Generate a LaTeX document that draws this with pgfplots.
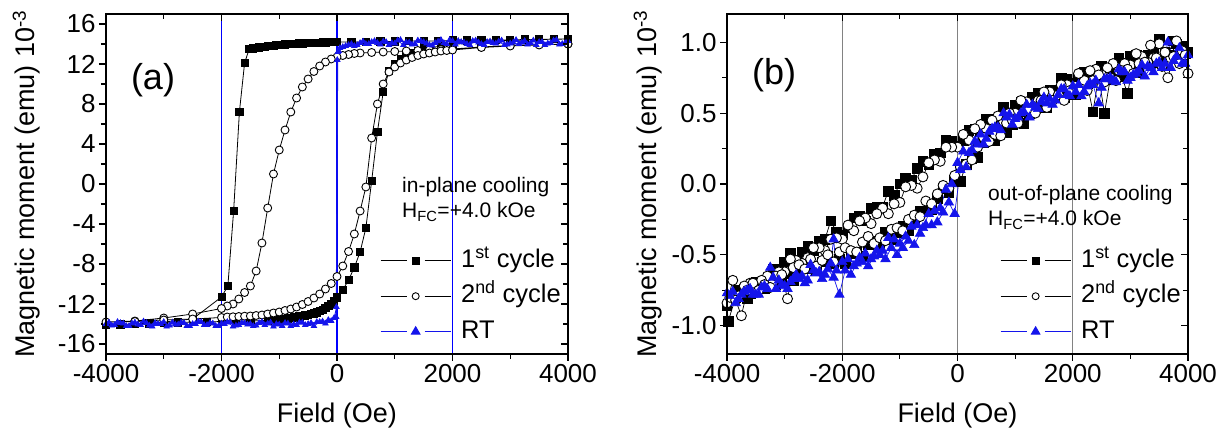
\documentclass[border=0pt]{standalone}
\usepackage{fontspec}
\setmainfont{Liberation Sans}
\usepackage{pgfplots}
\pgfplotsset{compat=1.18}
\definecolor{rtblue}{RGB}{20,20,235}
\definecolor{gridblue}{RGB}{0,0,255}
\definecolor{gridgray}{RGB}{130,130,130}
\pgfplotsset{
  panel/.style={
    scale only axis, height=340pt,
    xmin=-4000, xmax=4000,
    xtick={-4000,-2000,0,2000,4000},
    minor xtick={-3000,-1000,1000,3000},
    /pgf/number format/assume math mode=true,
    /pgf/number format/1000 sep={},
    tick label style={font=\fontsize{26}{30}\selectfont},
    xlabel style={at={([yshift=-69pt]axis description cs:0.5,0)}, anchor=base, font=\fontsize{27}{32}\selectfont},
    ylabel style={at={([xshift=-71pt]axis description cs:0,0.5)}, rotate=0, anchor=base, font=\fontsize{27}{32}\selectfont},
    axis line style={line width=1.4pt},
    major tick length=7pt, minor tick length=5pt,
    major tick style={line width=1.2pt, black},
    minor tick style={line width=1.2pt, black},
    tick align=outside, tick pos=left,
    legend cell align=left,
    legend image code/.code={\draw (0pt,0pt) -- (26pt,0pt) (44pt,0pt) -- (70pt,0pt); \draw plot coordinates {(35pt,0pt)};},
  },
  mirror/.style={tick pos=right, tick align=inside, xticklabels={}, yticklabels={}},
  panelA/.style={panel, width=462pt, ymin=-17, ymax=17, ytick={-16,-12,...,16}, minor ytick={-14,-10,...,14}},
  panelB/.style={panel, width=461pt, ymin=-1.2, ymax=1.2, ytick={-1,-0.5,0,0.5,1}, minor ytick={-0.75,-0.25,0.25,0.75},
    yticklabel style={/pgf/number format/fixed, /pgf/number format/fixed zerofill, /pgf/number format/precision=1}},
  legsty/.style={legend style={draw=none, fill=none, at={#1}, anchor=north west,
    font=\fontsize{25.5}{30}\selectfont, row sep=6.5pt, inner sep=0pt,
    /tikz/every odd column/.append style={column sep=8pt},
    nodes={inner sep=2pt, text height=19pt, text depth=6pt}}},
}
\begin{document}
\begin{tikzpicture}
\useasboundingbox (0pt,0pt) rectangle (1225pt,430pt);
% ---------------- panel (a)
\begin{axis}[panelA, at={(106pt,76pt)}, anchor=south west,
  xlabel={Field (Oe)}, ylabel={Magnetic moment (emu) 10\textsuperscript{-3}},
  legsty={(axis cs:745,-6.2)}]
\addlegendimage{black, line width=0.9pt, mark=square*, mark size=3.5pt}
\addlegendentry{1\textsuperscript{st} cycle}
\addlegendimage{black, line width=0.9pt, mark=*, mark size=3.5pt, mark options={fill=white, line width=0.9pt}}
\addlegendentry{2\textsuperscript{nd} cycle}
\addlegendimage{rtblue, line width=0.9pt, mark=triangle*, mark size=5pt}
\addlegendentry{RT}
% vertical reference lines
\addplot[forget plot, gridblue, line width=1.3pt, mark=none] coordinates {(-2000,-17) (-2000,17)};
\addplot[forget plot, gridblue, line width=1.3pt, mark=none] coordinates {(0,-17) (0,17)};
\addplot[forget plot, gridblue, line width=1.3pt, mark=none] coordinates {(2000,-17) (2000,17)};
% 1st cycle
\addplot[forget plot, black, line width=0.8pt, mark=square*, mark size=3.6pt] coordinates {
(4000,14.5) (3750,14.5) (3500,14.45) (3250,14.45) (3000,14.4) (2750,14.4) (2500,14.4) (2250,14.35) (2000,14.35) (1750,14.3) (1500,14.3) (1250,14.3) (1000,14.25) (750,14.25) (500,14.2) (250,14.2)
(0,14.20) (-50,14.19) (-100,14.18) (-150,14.17) (-200,14.16) (-250,14.15) (-300,14.14) (-350,14.13) (-400,14.12) (-450,14.10) (-500,14.09) (-550,14.08) (-600,14.06) (-650,14.05) (-700,14.03) (-750,14.01) (-800,13.99) (-850,13.97) (-900,13.95) (-950,13.93) (-1000,13.90) (-1050,13.87) (-1100,13.84) (-1150,13.81) (-1200,13.78) (-1250,13.74) (-1300,13.70) (-1350,13.66) (-1400,13.61) (-1450,13.56) (-1520,13.50)
(-1600,12.1) (-1690,7.2) (-1790,-2.7) (-1890,-10.2) (-2000,-11.3) (-2500,-13.5) (-3000,-13.8) (-3500,-14.0) (-4000,-14.1)
(-3750,-14.05) (-3500,-14.0) (-3250,-13.95) (-3000,-13.9) (-2750,-13.85) (-2500,-13.8) (-2250,-13.8) (-2000,-13.75) (-1750,-13.72) (-1500,-13.7)
(-1200,-13.65) (-1150,-13.62) (-1100,-13.6) (-1050,-13.58) (-1000,-13.55) (-950,-13.52) (-900,-13.48) (-850,-13.44) (-800,-13.4) (-750,-13.35) (-700,-13.3) (-650,-13.25) (-600,-13.2) (-550,-13.14) (-500,-13.08) (-450,-13.02) (-400,-12.95) (-350,-12.85) (-300,-12.72) (-250,-12.58) (-200,-12.42) (-150,-12.22) (-100,-11.98) (-50,-11.7) (0,-11.35)
(100,-10.6) (200,-9.6) (300,-8.35) (400,-6.8) (500,-4.4) (600,0.3) (700,5.2) (800,9.2) (900,11.3) (1000,12.0) (1100,12.5) (1200,12.85) (1300,13.1) (1400,13.3) (1500,13.45) (1600,13.6) (1800,13.8) (2000,13.95) (2500,14.2) (3000,14.35) (3500,14.45) (4000,14.5)
};
% 2nd cycle
\addplot[forget plot, black, line width=0.8pt, mark=*, mark size=4pt, mark options={fill=white, line width=0.9pt}] coordinates {
(4000,14.0) (3500,13.95) (3000,13.85) (2500,13.7) (2000,13.5) (1800,13.45) (1600,13.4) (1400,13.35) (1200,13.3) (1000,13.25) (800,13.2) (600,13.15) (400,13.1) (300,13.05) (200,12.95) (100,12.85) (0,12.7) (-100,12.5) (-200,12.2) (-300,11.8) (-400,11.25) (-500,10.5) (-600,9.7) (-700,8.6) (-800,7.2) (-900,5.4) (-1000,3.4) (-1100,1.0) (-1200,-2.4) (-1300,-5.9) (-1400,-8.7) (-1500,-10.2) (-1600,-10.85) (-1700,-11.5) (-1800,-12.0) (-1900,-12.2) (-2000,-12.45) (-2500,-13.0) (-3000,-13.4) (-3500,-13.7) (-4000,-13.8)
(-3500,-13.75) (-3000,-13.6) (-2500,-13.5) (-2000,-13.35) (-1900,-13.3) (-1800,-13.28) (-1700,-13.25) (-1600,-13.22) (-1500,-13.2) (-1400,-13.15) (-1300,-13.1) (-1200,-13.0) (-1100,-12.9) (-1000,-12.8) (-900,-12.65) (-800,-12.5) (-700,-12.3) (-600,-12.05) (-500,-11.75) (-400,-11.4) (-300,-11.0) (-200,-10.5) (-100,-9.95) (0,-9.25) (100,-8.2) (200,-6.75) (300,-5.0) (400,-2.7) (500,-0.3) (600,4.6) (700,8.0) (800,10.0) (900,11.2) (1000,11.7) (1100,12.1) (1200,12.4) (1300,12.65) (1400,12.85) (1500,13.0) (1600,13.1) (1700,13.2) (1800,13.3) (1900,13.35) (2000,13.4) (2500,13.65) (3000,13.8) (3500,13.9) (4000,14.0)
};
% RT
\addplot[forget plot, rtblue, line width=0.7pt, mark=triangle*, mark size=3.2pt] coordinates {
(4000,14.3) (3900,14.0) (3800,14.4) (3700,14.1) (3600,13.9) (3500,14.2) (3400,14.35) (3300,13.95) (3200,14.15) (3100,14.4) (3000,14.05) (2900,13.9) (2800,14.25) (2700,14.1) (2600,14.2) (2500,14.0) (2400,14.35) (2300,13.9) (2200,14.15) (2100,14.3) (2000,14.3) (1900,14.0) (1800,14.4) (1700,14.1) (1600,13.9) (1500,14.2) (1400,14.35) (1300,13.95) (1200,14.15) (1100,14.4) (1000,14.05) (900,13.9) (800,14.25) (700,14.1) (600,14.2) (500,14.0) (400,14.1) (300,13.8) (200,13.9) (100,13.7) (30,13.3) (5,12.4) (-15,-13.3)
(-100,-13.7) (-200,-13.95) (-300,-13.8) (-400,-14.2) (-500,-14.0) (-600,-13.85) (-700,-14.1) (-800,-14.2) (-900,-13.9) (-1000,-14.05) (-1100,-14.25) (-1200,-13.95) (-1300,-13.8) (-1400,-14.15) (-1500,-14.0) (-1600,-13.9) (-1700,-14.1) (-1800,-14.25) (-1900,-13.8) (-2000,-13.95) (-2100,-14.2) (-2200,-13.9) (-2300,-14.1) (-2400,-13.75) (-2500,-14.0) (-2600,-14.2) (-2700,-13.85) (-2800,-14.05) (-2900,-14.15) (-3000,-13.8) (-3100,-14.0) (-3200,-14.25) (-3300,-13.9) (-3400,-14.1) (-3500,-13.85) (-3600,-14.2) (-3700,-13.95) (-3800,-13.8) (-3900,-14.15) (-4000,-14.0)
(-3950,-13.85) (-3850,-14.1) (-3750,-13.9) (-3650,-14.2) (-3550,-13.95) (-3450,-14.05) (-3350,-13.75) (-3250,-14.15) (-3150,-13.9) (-3050,-14.0) (-2950,-14.25) (-2850,-13.85) (-2750,-14.05) (-2650,-13.9) (-2550,-14.2) (-2450,-14.0) (-2350,-13.8) (-2250,-14.1) (-2150,-13.95) (-2050,-14.2) (-1950,-14.0) (-1850,-13.85) (-1750,-14.15) (-1650,-13.9) (-1550,-14.05) (-1450,-14.2) (-1350,-13.9) (-1250,-14.1) (-1150,-13.85) (-1050,-14.0) (-950,-14.2) (-850,-13.95) (-750,-14.05) (-650,-13.85) (-550,-14.1) (-450,-13.9) (-350,-13.8) (-250,-13.75) (-150,-13.6) (-50,-13.4) (-10,-12.3) (15,13.2)
(50,13.6) (150,13.8) (250,14.0) (350,13.9) (450,14.25) (550,14.0) (650,14.3) (750,13.95) (850,14.2) (950,14.1) (1050,14.35) (1150,13.9) (1250,14.15) (1350,14.0) (1450,14.3) (1550,14.05) (1650,13.85) (1750,14.25) (1850,14.1) (1950,14.4) (2050,13.95) (2150,14.2) (2250,14.0) (2350,14.3) (2450,14.15) (2550,13.9) (2650,14.25) (2750,14.05) (2850,14.35) (2950,13.95) (3050,14.15) (3150,14.0) (3250,14.3) (3350,14.1) (3450,13.9) (3550,14.2) (3650,14.05) (3750,14.35) (3850,13.95) (3950,14.1)
};
\node[font=\fontsize{36}{40}\selectfont] at (axis cs:-3186,10.4) {(a)};
\node[anchor=west, inner sep=0pt, font=\fontsize{21}{25}\selectfont] at (axis cs:1126,-0.3) {in-plane cooling};
\node[anchor=west, inner sep=0pt, font=\fontsize{21}{25}\selectfont] at (axis cs:1126,-2.8) {H\textsubscript{FC}=+4.0 kOe};
\end{axis}
\begin{axis}[panelA, mirror, at={(106pt,76pt)}, anchor=south west]
\end{axis}
% ---------------- panel (b)
\begin{axis}[panelB, at={(727pt,76pt)}, anchor=south west,
  xlabel={Field (Oe)}, ylabel={Magnetic moment (emu) 10\textsuperscript{-3}},
  xmajorgrids, major grid style={gridgray, line width=1.2pt},
  legsty={(axis cs:737,-0.438)}]
\addlegendimage{black, line width=0.9pt, mark=square*, mark size=3.5pt}
\addlegendentry{1\textsuperscript{st} cycle}
\addlegendimage{black, line width=0.9pt, mark=*, mark size=3.5pt, mark options={fill=white, line width=0.9pt}}
\addlegendentry{2\textsuperscript{nd} cycle}
\addlegendimage{rtblue, line width=0.9pt, mark=triangle*, mark size=5pt}
\addlegendentry{RT}
% 1st cycle
\addplot[forget plot, black, line width=0.7pt, mark=square*, mark size=4.8pt] coordinates {
(4000,0.93) (3900,0.97) (3800,0.99) (3700,0.91) (3600,0.93) (3500,1.02) (3400,0.93) (3300,0.91) (3200,0.86) (3100,0.91) (3000,0.90) (2900,0.84) (2800,0.89) (2700,0.80) (2600,0.82) (2500,0.83) (2400,0.75) (2300,0.79) (2200,0.79) (2100,0.74) (2000,0.71) (1900,0.74) (1800,0.75) (1700,0.66) (1600,0.66) (1500,0.60) (1400,0.64) (1300,0.61) (1200,0.54) (1100,0.58) (1000,0.56) (900,0.50) (800,0.54) (700,0.45) (600,0.46) (500,0.46) (400,0.37) (300,0.39) (200,0.38) (100,0.31) (0,0.27) (-100,0.30) (-200,0.31) (-300,0.22) (-400,0.21) (-500,0.14) (-600,0.16) (-700,0.11) (-800,0.03) (-900,0.04) (-1000,0.00) (-1100,-0.08) (-1200,-0.05) (-1300,-0.16) (-1400,-0.16) (-1500,-0.17) (-1600,-0.26) (-1700,-0.23) (-1800,-0.24) (-1900,-0.31) (-2000,-0.36) (-2100,-0.34) (-2200,-0.26) (-2300,-0.39) (-2400,-0.40) (-2500,-0.47) (-2600,-0.44) (-2700,-0.48) (-2800,-0.55) (-2900,-0.49) (-3000,-0.55) (-3100,-0.63) (-3200,-0.60) (-3300,-0.70) (-3400,-0.69) (-3500,-0.69) (-3600,-0.77) (-3700,-0.74) (-3800,-0.75) (-3900,-0.81) (-4000,-0.86)
(-3980,-0.97) (-3850,-0.80) (-3750,-0.79) (-3650,-0.81) (-3550,-0.73) (-3450,-0.71) (-3350,-0.74) (-3250,-0.66) (-3150,-0.71) (-3050,-0.67) (-2950,-0.63) (-2850,-0.68) (-2750,-0.61) (-2650,-0.58) (-2550,-0.60) (-2450,-0.61) (-2350,-0.55) (-2250,-0.51) (-2150,-0.56) (-2050,-0.53) (-1950,-0.56) (-1850,-0.49) (-1750,-0.48) (-1650,-0.51) (-1550,-0.43) (-1450,-0.40) (-1350,-0.43) (-1250,-0.34) (-1150,-0.39) (-1050,-0.34) (-950,-0.30) (-850,-0.33) (-750,-0.25) (-650,-0.19) (-550,-0.19) (-450,-0.18) (-350,-0.10) (-250,-0.03) (-150,-0.06) (-50,0.02) (50,0.02) (150,0.14) (250,0.18) (350,0.19) (450,0.29) (550,0.33) (650,0.31) (750,0.40) (850,0.36) (950,0.42) (1050,0.47) (1150,0.43) (1250,0.50) (1350,0.55) (1450,0.54) (1550,0.54) (1650,0.61) (1750,0.66) (1850,0.61) (1950,0.65) (2050,0.63) (2150,0.70) (2250,0.71) (2350,0.51) (2450,0.76) (2550,0.50) (2650,0.74) (2750,0.82) (2850,0.76) (2950,0.64) (3050,0.84) (3150,0.79) (3250,0.86) (3350,0.89) (3450,0.86) (3550,0.85) (3650,0.91) (3750,1.01) (3850,0.89) (3950,0.92)
};
% 2nd cycle
\addplot[forget plot, black, line width=0.7pt, mark=*, mark size=5pt, mark options={fill=white, line width=0.9pt}] coordinates {
(4000,0.78) (3900,0.94) (3800,1.01) (3700,0.89) (3600,0.93) (3500,0.99) (3400,0.89) (3300,0.86) (3200,0.90) (3100,0.92) (3000,0.84) (2900,0.85) (2800,0.80) (2700,0.85) (2600,0.82) (2500,0.77) (2400,0.81) (2300,0.80) (2200,0.73) (2100,0.78) (2000,0.69) (1900,0.70) (1800,0.70) (1700,0.62) (1600,0.65) (1500,0.65) (1400,0.59) (1300,0.55) (1200,0.58) (1100,0.59) (1000,0.50) (900,0.50) (800,0.44) (700,0.48) (600,0.45) (500,0.39) (400,0.42) (300,0.39) (200,0.31) (100,0.35) (0,0.26) (-100,0.26) (-200,0.26) (-300,0.16) (-400,0.17) (-500,0.15) (-600,0.05) (-700,-0.03) (-800,-0.01) (-900,-0.02) (-1000,-0.13) (-1100,-0.14) (-1200,-0.21) (-1300,-0.17) (-1400,-0.21) (-1500,-0.28) (-1600,-0.24) (-1700,-0.26) (-1800,-0.33) (-1900,-0.29) (-2000,-0.39) (-2100,-0.38) (-2200,-0.39) (-2300,-0.47) (-2400,-0.45) (-2500,-0.45) (-2600,-0.52) (-2700,-0.56) (-2800,-0.54) (-2900,-0.53) (-3000,-0.62) (-3100,-0.62) (-3200,-0.69) (-3300,-0.65) (-3400,-0.68) (-3500,-0.74) (-3600,-0.70) (-3700,-0.72) (-3800,-0.79) (-3900,-0.68) (-4000,-0.84)
(-3950,-0.80) (-3850,-0.82) (-3750,-0.93) (-3650,-0.75) (-3550,-0.70) (-3450,-0.75) (-3350,-0.71) (-3250,-0.73) (-3150,-0.65) (-3050,-0.64) (-2950,-0.81) (-2850,-0.59) (-2750,-0.57) (-2650,-0.60) (-2550,-0.53) (-2450,-0.58) (-2350,-0.54) (-2250,-0.50) (-2150,-0.55) (-2050,-0.48) (-1950,-0.45) (-1850,-0.47) (-1750,-0.48) (-1650,-0.41) (-1550,-0.37) (-1450,-0.42) (-1350,-0.38) (-1250,-0.40) (-1150,-0.32) (-1050,-0.31) (-950,-0.33) (-850,-0.25) (-750,-0.22) (-650,-0.23) (-550,-0.12) (-450,-0.14) (-350,-0.07) (-250,-0.01) (-150,-0.03) (-50,0.06) (50,0.12) (150,0.14) (250,0.17) (350,0.26) (450,0.33) (550,0.30) (650,0.35) (750,0.34) (850,0.43) (950,0.45) (1050,0.43) (1150,0.51) (1250,0.53) (1350,0.50) (1450,0.59) (1550,0.54) (1650,0.59) (1750,0.63) (1850,0.59) (1950,0.66) (2050,0.69) (2150,0.67) (2250,0.66) (2350,0.73) (2450,0.77) (2550,0.72) (2650,0.75) (2750,0.73) (2850,0.80) (2950,0.81) (3050,0.78) (3150,0.85) (3250,0.86) (3350,0.98) (3450,0.89) (3550,0.83) (3650,0.75) (3750,0.90) (3850,0.85) (3950,0.91)
};
% RT
\addplot[forget plot, rtblue, line width=0.7pt, mark=triangle*, mark size=5.4pt] coordinates {
(4000,0.91) (3900,0.85) (3800,0.90) (3700,0.82) (3600,0.85) (3500,0.86) (3400,0.79) (3300,0.83) (3200,0.84) (3100,0.78) (3000,0.75) (2900,0.79) (2800,0.81) (2700,0.73) (2600,0.74) (2500,0.68) (2400,0.73) (2300,0.71) (2200,0.65) (2100,0.70) (2000,0.69) (1900,0.63) (1800,0.67) (1700,0.59) (1600,0.60) (1500,0.61) (1400,0.53) (1300,0.56) (1200,0.56) (1100,0.50) (1000,0.46) (900,0.49) (800,0.50) (700,0.40) (600,0.39) (500,0.32) (400,0.35) (300,0.30) (200,0.22) (100,0.23) (0,0.15) (-100,0.00) (-200,-0.04) (-300,-0.17) (-400,-0.19) (-500,-0.21) (-600,-0.31) (-700,-0.29) (-800,-0.30) (-900,-0.37) (-1000,-0.42) (-1100,-0.39) (-1200,-0.38) (-1300,-0.47) (-1400,-0.47) (-1500,-0.53) (-1600,-0.49) (-1700,-0.52) (-1800,-0.58) (-1900,-0.53) (-2000,-0.55) (-2100,-0.61) (-2150,-0.39) (-2200,-0.56) (-2300,-0.64) (-2400,-0.62) (-2500,-0.61) (-2600,-0.68) (-2700,-0.65) (-2800,-0.64) (-2900,-0.69) (-3000,-0.72) (-3100,-0.68) (-3200,-0.66) (-3300,-0.74) (-3400,-0.73) (-3500,-0.78) (-3600,-0.74) (-3700,-0.76) (-3800,-0.81) (-3900,-0.76) (-4000,-0.77)
(-3950,-0.79) (-3850,-0.84) (-3750,-0.78) (-3650,-0.75) (-3550,-0.78) (-3450,-0.78) (-3350,-0.72) (-3250,-0.59) (-3150,-0.74) (-3050,-0.71) (-2950,-0.74) (-2850,-0.67) (-2750,-0.67) (-2650,-0.70) (-2550,-0.57) (-2450,-0.63) (-2350,-0.67) (-2250,-0.60) (-2150,-0.66) (-2050,-0.78) (-1950,-0.61) (-1850,-0.64) (-1750,-0.56) (-1650,-0.55) (-1550,-0.58) (-1450,-0.51) (-1350,-0.50) (-1250,-0.53) (-1150,-0.45) (-1050,-0.50) (-950,-0.45) (-850,-0.40) (-750,-0.43) (-650,-0.35) (-550,-0.29) (-450,-0.29) (-350,-0.27) (-250,-0.20) (-150,-0.13) (-50,-0.21) (50,0.10) (150,0.12) (250,0.24) (350,0.28) (450,0.28) (550,0.37) (650,0.40) (750,0.38) (850,0.47) (950,0.42) (1050,0.47) (1150,0.51) (1250,0.47) (1350,0.54) (1450,0.58) (1550,0.57) (1650,0.56) (1750,0.63) (1850,0.67) (1950,0.62) (2050,0.65) (2150,0.62) (2250,0.69) (2350,0.70) (2450,0.57) (2550,0.74) (2650,0.75) (2750,0.72) (2850,0.79) (2950,0.73) (3050,0.77) (3150,0.80) (3250,0.76) (3350,0.82) (3450,0.85) (3550,0.82) (3650,1.00) (3750,0.87) (3850,0.96) (3950,0.85)
};
\node[font=\fontsize{36}{40}\selectfont] at (axis cs:-3184,0.769) {(b)};
\node[anchor=west, inner sep=0pt, font=\fontsize{21}{25}\selectfont] at (axis cs:529,-0.078) {out-of-plane cooling};
\node[anchor=west, inner sep=0pt, font=\fontsize{21}{25}\selectfont] at (axis cs:529,-0.254) {H\textsubscript{FC}=+4.0 kOe};
\end{axis}
\begin{axis}[panelB, mirror, at={(727pt,76pt)}, anchor=south west]
\end{axis}
\end{tikzpicture}
\end{document}
